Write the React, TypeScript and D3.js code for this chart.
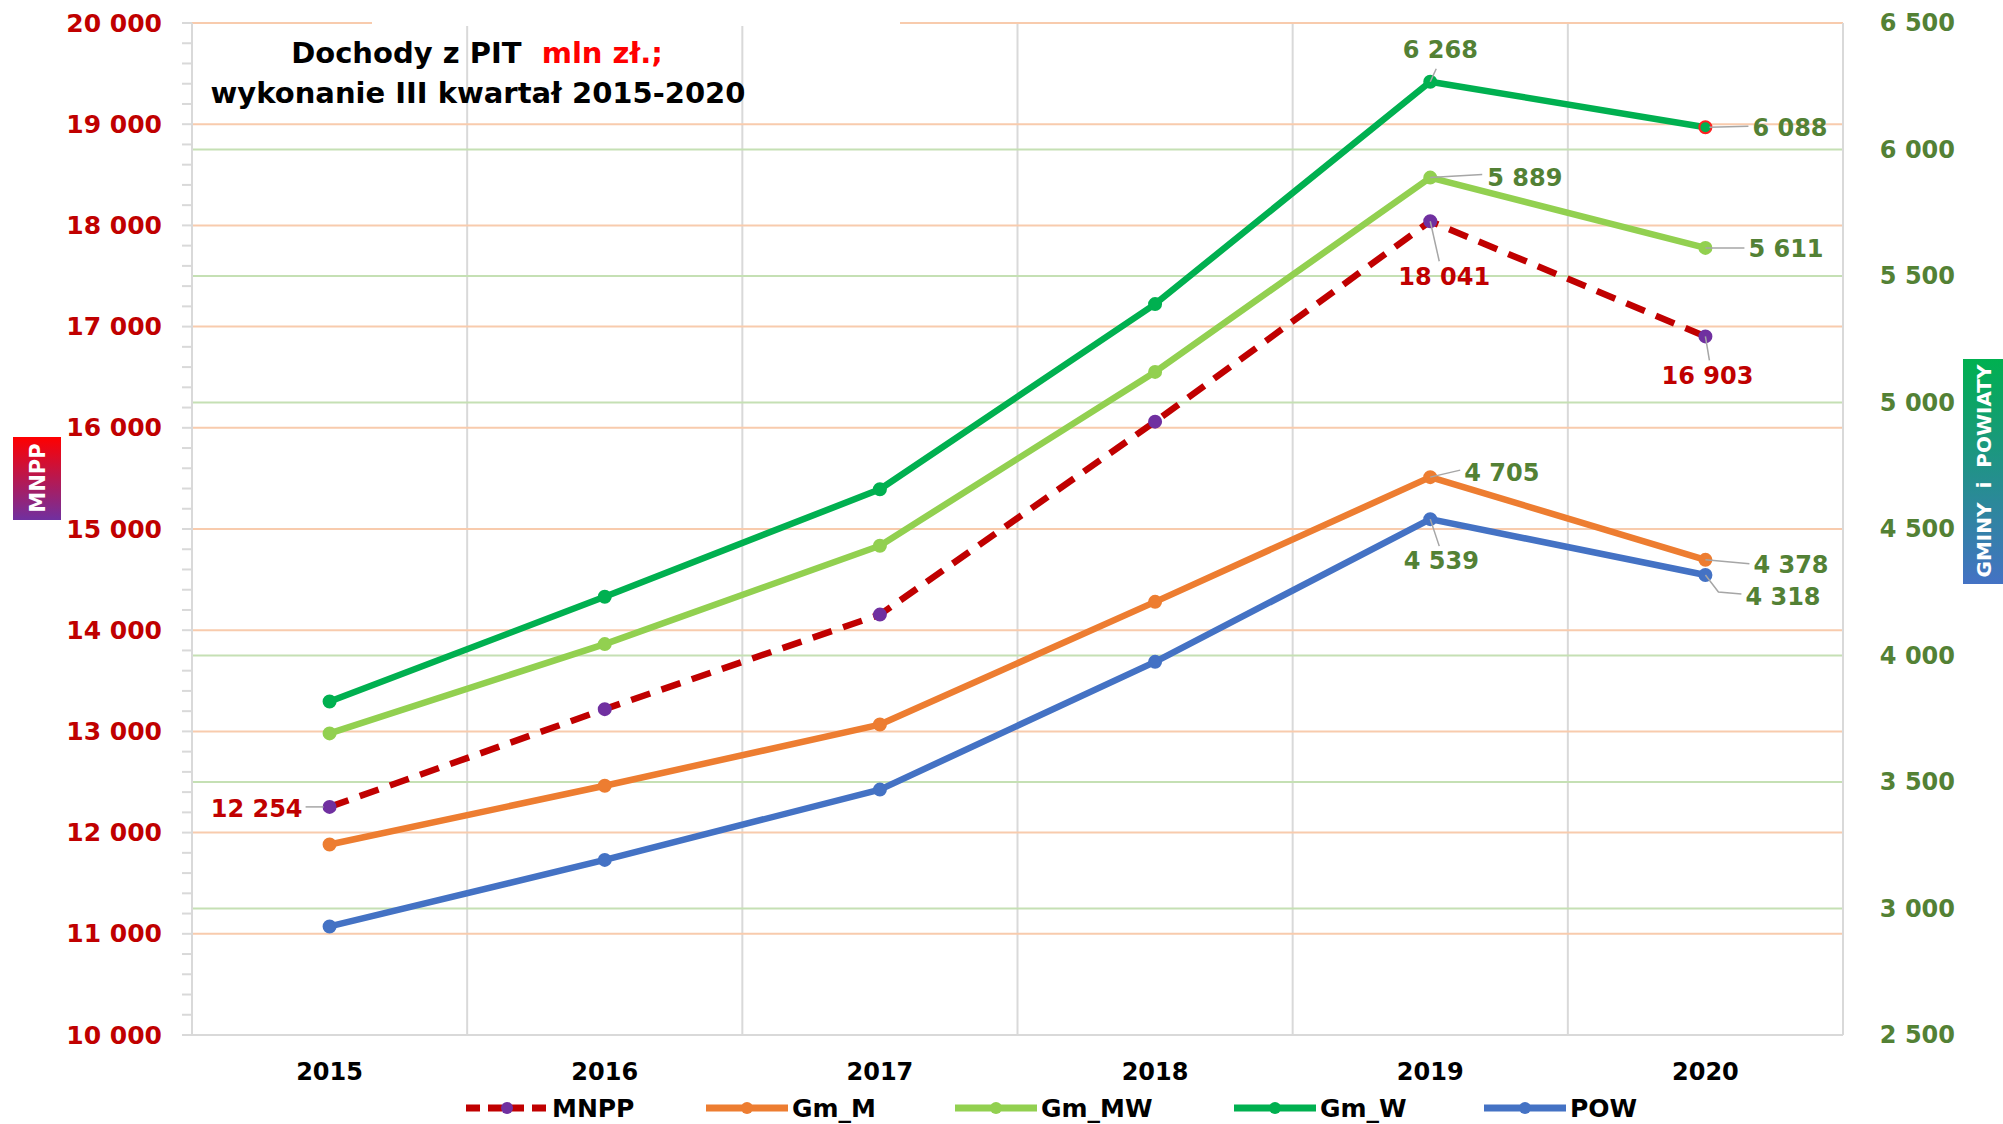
import React from 'react'
import * as d3 from 'd3'

// data
const years = ['2015', '2016', '2017', '2018', '2019', '2020']
const mnpp = [12254, 13220, 14154, 16061, 18041, 16903]
const gmM = [3253, 3485, 3727, 4212, 4705, 4378]
const gmMW = [3692, 4045, 4434, 5121, 5889, 5611]
const gmW = [3818, 4232, 4657, 5389, 6268, 6088]
const pow = [2929, 3192, 3470, 3975, 4539, 4318]
const leftTicks = d3.range(10000, 20001, 1000)
const rightTicks = d3.range(2500, 6501, 500)

const W = 2003
const H = 1124
const margin = { top: 23, right: 160, bottom: 89, left: 192 }
const FONT = '"DejaVu Sans", sans-serif'
const RED = '#C00000'
const OLIVE = '#538135'

const fmt = (v: number) => d3.format(',')(v).replace(/,/g, ' ')

const x = d3
  .scaleBand()
  .domain(years)
  .range([margin.left, W - margin.right])
const cx = (i: number) => x(years[i])! + x.bandwidth() / 2
const yL = d3.scaleLinear().domain([10000, 20000]).range([H - margin.bottom, margin.top])
const yR = d3.scaleLinear().domain([2500, 6500]).range([H - margin.bottom, margin.top])

interface Series {
  name: string
  values: number[]
  color: string
  marker: string
  scale: d3.ScaleLinear<number, number>
  dashed?: boolean
}

const series: Series[] = [
  { name: 'Gm_W', values: gmW, color: '#00B050', marker: '#00B050', scale: yR },
  { name: 'Gm_MW', values: gmMW, color: '#92D050', marker: '#92D050', scale: yR },
  { name: 'MNPP', values: mnpp, color: RED, marker: '#7030A0', scale: yL, dashed: true },
  { name: 'Gm_M', values: gmM, color: '#ED7D31', marker: '#ED7D31', scale: yR },
  { name: 'POW', values: pow, color: '#4472C4', marker: '#4472C4', scale: yR },
]
const legendOrder = ['MNPP', 'Gm_M', 'Gm_MW', 'Gm_W', 'POW']
const legendX = [466, 706, 955, 1234, 1484]

// data labels: offsets of text and leader lines relative to the point
const labels = [
  { s: 'MNPP', i: 0, dx: -27, dy: 2, anchor: 'end', leader: [[-6, 0], [-24, 0]] },
  { s: 'Gm_W', i: 4, dx: 10, dy: -32, anchor: 'middle', leader: [[0, 0], [6, -13]] },
  { s: 'Gm_W', i: 5, dx: 47, dy: 1, anchor: 'start', leader: [[4, 0], [43, -1]] },
  { s: 'Gm_MW', i: 4, dx: 57, dy: 0, anchor: 'start', leader: [[0, 0], [52, -3]] },
  { s: 'Gm_MW', i: 5, dx: 43, dy: 1, anchor: 'start', leader: [[0, 0], [39, 0]] },
  { s: 'MNPP', i: 4, dx: 14, dy: 56, anchor: 'middle', leader: [[0, 0], [9, 40]] },
  { s: 'MNPP', i: 5, dx: 2, dy: 40, anchor: 'middle', leader: [[0, 0], [4, 24]] },
  { s: 'Gm_M', i: 4, dx: 34, dy: -4, anchor: 'start', leader: [[0, 0], [30, -7]] },
  { s: 'POW', i: 4, dx: 11, dy: 42, anchor: 'middle', leader: [[0, 0], [9, 27]] },
  { s: 'Gm_M', i: 5, dx: 48, dy: 5, anchor: 'start', leader: [[0, 0], [44, 4]] },
  { s: 'POW', i: 5, dx: 40, dy: 22, anchor: 'start', leader: [[0, 0], [13, 17], [36, 19]] },
]

const App: React.FC = () => {
  const x0 = margin.left
  const x1 = W - margin.right
  const minorTicks = d3.range(10000, 20001, 200)
  const bandEdges = years.slice(1).map((y) => x(y)!)

  return (
    <svg
      width={W}
      height={H}
      style={{ position: 'absolute', left: 0, top: 0, background: '#fff' }}
      fontFamily={FONT}
    >
      <defs>
        <linearGradient id="gL" x1="0" y1="0" x2="0" y2="1">
          <stop offset="0%" stopColor="#FF0000" />
          <stop offset="100%" stopColor="#7030A0" />
        </linearGradient>
        <linearGradient id="gR" x1="0" y1="0" x2="0" y2="1">
          <stop offset="0%" stopColor="#00B050" />
          <stop offset="100%" stopColor="#4472C4" />
        </linearGradient>
      </defs>

      {/* vertical grid */}
      {bandEdges.map((bx) => (
        <line key={bx} x1={bx} x2={bx} y1={margin.top} y2={yL(10000)} stroke="#D9D9D9" strokeWidth={2} />
      ))}
      {/* right-axis grid */}
      {rightTicks.slice(1, -1).map((t) => (
        <line key={'r' + t} x1={x0} x2={x1} y1={yR(t)} y2={yR(t)} stroke="#C5E0B4" strokeWidth={2} />
      ))}
      {/* left-axis grid */}
      {leftTicks.slice(1).map((t) => (
        <line key={'l' + t} x1={x0} x2={x1} y1={yL(t)} y2={yL(t)} stroke="#F8CBAD" strokeWidth={2} />
      ))}
      {/* title box hides the top line */}
      <rect x={372} y={margin.top - 3} width={528} height={6} fill="#fff" />

      {/* axes */}
      <line x1={x0} x2={x0} y1={margin.top} y2={yL(10000)} stroke="#D9D9D9" strokeWidth={2} />
      <line x1={x1} x2={x1} y1={margin.top} y2={yL(10000)} stroke="#D9D9D9" strokeWidth={2} />
      <line x1={x0 - 10} x2={x1} y1={yL(10000)} y2={yL(10000)} stroke="#D9D9D9" strokeWidth={2} />
      {minorTicks.map((t) => (
        <line key={'m' + t} x1={x0 - 10} x2={x0} y1={yL(t)} y2={yL(t)} stroke="#D9D9D9" strokeWidth={2} />
      ))}

      {leftTicks.map((t) => (
        <text key={'lt' + t} x={162} y={yL(t)} dominantBaseline="central" textAnchor="end"
          fontSize={25} fontWeight="bold" fill={RED}>{fmt(t)}</text>
      ))}
      {rightTicks.map((t) => (
        <text key={'rt' + t} x={1955} y={yR(t)} dominantBaseline="central" textAnchor="end"
          fontSize={24} fontWeight="bold" fill={OLIVE}>{fmt(t)}</text>
      ))}
      {years.map((yr, i) => (
        <text key={yr} x={cx(i)} y={1072} dominantBaseline="central" textAnchor="middle"
          fontSize={24} fontWeight="bold" fill="#000">{yr}</text>
      ))}

      {/* series */}
      {series.map((s) => {
        const line = d3
          .line<number>()
          .x((_, i) => cx(i))
          .y((d) => s.scale(d))
        return (
          <g key={s.name}>
            <path d={line(s.values)!} fill="none" stroke={s.color} strokeWidth={6.5}
              strokeDasharray={s.dashed ? '20 12' : undefined} strokeLinejoin="round" />
            {s.values.map((v, i) => (
              <circle key={i} cx={cx(i)} cy={s.scale(v)} r={6} fill={s.marker}
                stroke={s.name === 'Gm_W' && i === 5 ? '#FF2020' : s.marker} strokeWidth={2} />
            ))}
          </g>
        )
      })}

      {/* data labels */}
      {labels.map((l, k) => {
        const s = series.find((d) => d.name === l.s)!
        const px = cx(l.i)
        const py = s.scale(s.values[l.i])
        return (
          <g key={k}>
            <polyline points={l.leader.map(([a, b]) => `${px + a},${py + b}`).join(' ')}
              fill="none" stroke="#A6A6A6" strokeWidth={1.5} />
            <text x={px + l.dx} y={py + l.dy} dominantBaseline="central" textAnchor={l.anchor as any}
              fontSize={24} fontWeight="bold" fill={l.s === 'MNPP' ? RED : OLIVE}>
              {fmt(s.values[l.i])}
            </text>
          </g>
        )
      })}

      {/* title */}
      <text x={477} y={53} textAnchor="middle" dominantBaseline="central" fontSize={29} fontWeight="bold"
        fill="#000" xmlSpace="preserve">
        Dochody z PIT  <tspan fill="#FF0000">mln zł.;</tspan>
      </text>
      <text x={478} y={93} textAnchor="middle" dominantBaseline="central" fontSize={29} fontWeight="bold" fill="#000">
        wykonanie III kwartał 2015-2020
      </text>

      {/* axis title badges */}
      <rect x={13} y={437} width={48} height={83} fill="url(#gL)" />
      <text transform={`translate(38,478) rotate(-90)`} textAnchor="middle" dominantBaseline="central"
        fontSize={21} fontWeight="bold" fill="#fff">MNPP</text>
      <rect x={1963} y={359} width={40} height={225} fill="url(#gR)" />
      <text transform={`translate(1984,471) rotate(-90)`} textAnchor="middle" dominantBaseline="central"
        fontSize={20} fontWeight="bold" fill="#fff" xmlSpace="preserve">GMINY  i  POWIATY</text>

      {/* legend */}
      {legendOrder.map((name, k) => {
        const s = series.find((d) => d.name === name)!
        const lx = legendX[k]
        const ly = 1108
        return (
          <g key={name}>
            <line x1={lx} x2={lx + 82} y1={ly} y2={ly} stroke={s.color} strokeWidth={7}
              strokeDasharray={s.dashed ? '14 8' : undefined} />
            <circle cx={lx + 41} cy={ly} r={6} fill={s.marker} />
            <text x={lx + 86} y={ly} dominantBaseline="central" fontSize={25} fontWeight="bold" fill="#000">{name}</text>
          </g>
        )
      })}
    </svg>
  )
}

export default App
